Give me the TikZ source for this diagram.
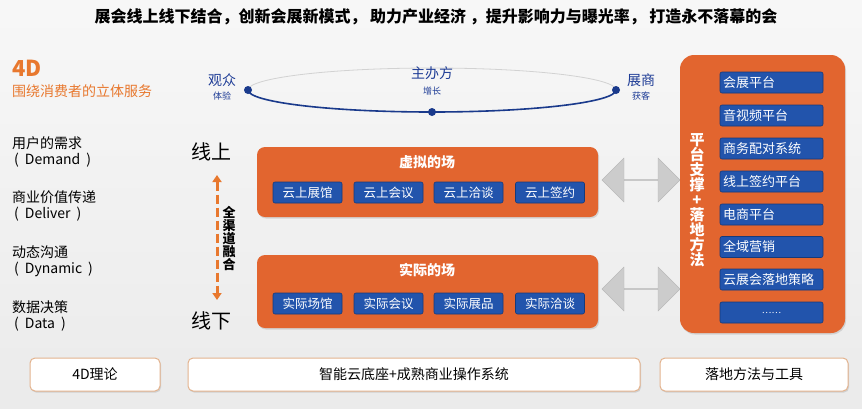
\documentclass[tikz,border=0pt]{standalone}
\usepackage{fontspec}
\setmainfont{Noto Sans CJK SC}
\usetikzlibrary{arrows.meta,shapes.arrows,shadows,calc}
\definecolor{org}{HTML}{E2652F}
\definecolor{orgtxt}{HTML}{E8782E}
\definecolor{blu}{HTML}{2254AC}
\definecolor{bluborder}{HTML}{163A7A}
\definecolor{blutxt}{HTML}{1E3C96}
\definecolor{ellblue}{HTML}{1A3A8C}
\definecolor{tan}{HTML}{E3B38E}
\newcommand{\fs}[1]{\fontsize{#1}{#1}\selectfont}
\tikzset{
  orgbox/.style={fill=org, rounded corners=8pt, drop shadow={opacity=0.25,shadow xshift=1pt,shadow yshift=-1.5pt}},
  bluitem/.style={fill=blu, draw=bluborder, line width=0.6pt, rounded corners=2pt, text=white, font=\fs{12.5}, minimum width=69pt, minimum height=21pt, inner sep=0pt},
  sideitem/.style={fill=blu, draw=bluborder, line width=0.6pt, rounded corners=2pt, text=white, font=\fs{13}, minimum width=103pt, minimum height=21pt, inner sep=3pt, text width=97pt, align=left},
  boxtitle/.style={text=white, font=\bfseries\fs{14}},
  leftlbl/.style={anchor=west, font=\fs{14}, inner sep=0pt},
  botbox/.style={fill=white, draw=tan, line width=1pt, rounded corners=5pt, drop shadow={opacity=0.25,shadow xshift=1pt,shadow yshift=-1.5pt}},
  botlbl/.style={font=\fs{14}},
  grayarrow/.style={double arrow, fill=gray!40, draw=gray!55, minimum width=44pt, double arrow head extend=13.5pt, minimum height=78pt, inner sep=0pt},
  dotnode/.style={circle, fill=ellblue, inner sep=0pt, minimum size=8pt},
  elllbl/.style={text=blutxt, font=\fs{14}, inner sep=0pt},
  ellsub/.style={text=blutxt, font=\fs{9}, inner sep=0pt},
}
\begin{document}
\begin{tikzpicture}[x=1pt,y=-1pt]
\useasboundingbox (0,0) rectangle (862,408);
\shade[top color=gray!6, bottom color=gray!16] (0,0) rectangle (862,408);

% title
\node[font=\bfseries\fs{16}] (title) at (436,17) {展会线上线下结合，创新会展新模式， 助力产业经济 ，提升影响力与曝光率， 打造永不落幕的会};

% left column
\node[anchor=west, text=orgtxt, font=\bfseries\fs{22}, inner sep=0pt] (fourd) at (12,68) {4D};
\node[leftlbl, text=orgtxt] (sub) at (12,91) {围绕消费者的立体服务};
\node[leftlbl] (d1a) at (12,143) {用户的需求};
\node[leftlbl] (d1b) at (14,160) {(\hspace{6pt}Demand\hspace{6pt})};
\node[leftlbl] (d2a) at (12,197) {商业价值传递};
\node[leftlbl] (d2b) at (14,214) {(\hspace{6pt}Deliver\hspace{6pt})};
\node[leftlbl] (d3a) at (12,252) {动态沟通};
\node[leftlbl] (d3b) at (14,269) {(\hspace{6pt}Dynamic\hspace{6pt})};
\node[leftlbl] (d4a) at (12,307) {数据决策};
\node[leftlbl] (d4b) at (14,324) {(\hspace{6pt}Data\hspace{6pt})};

% online / offline
\node[font=\fs{20}] (online) at (211,152) {线上};
\node[font=\fs{20}] (offline) at (211,321) {线下};
\coordinate (atop) at (217,175);
\coordinate (abot) at (217,300);
\draw[orgtxt, line width=3pt, dash pattern=on 9pt off 4pt, {Triangle[length=7pt,width=9pt]}-{Triangle[length=7pt,width=9pt]}] (atop) -- (abot);
\node[font=\bfseries\fs{13}, align=center, inner sep=0pt] (allch) at (229,238) {\baselineskip=14.5pt 全\\渠\\道\\融\\合};

% ellipse
\coordinate (ec) at (432,90);
\draw[gray!35, line width=0.8pt] (ec) ellipse [x radius=184, y radius=22];
\draw[ellblue, line width=1.6pt] ($(ec)+(184,0)$) arc[start angle=0, end angle=180, x radius=184, y radius=22];
\node[dotnode] (dl) at ($(ec)+(-184,0)$) {};
\node[dotnode] (dr) at ($(ec)+(184,0)$) {};
\node[dotnode] (db) at ($(ec)+(0,22)$) {};
\node[elllbl] (guanzhong) at (222,80) {观众};
\node[ellsub] (tiyan) at (222,96) {体验};
\node[elllbl] (zhuban) at (432,73) {主办方};
\node[ellsub] (zengzhang) at (432,91) {增长};
\node[elllbl] (zhanshang) at (641,80) {展商};
\node[ellsub] (huoke) at (641,96) {获客};

% virtual field
\path[orgbox] (257,147) rectangle (598,217);
\node[boxtitle] (vt) at (427,162) {虚拟的场};
\node[bluitem] (v1) at (307.5,192.5) {云上展馆};
\node[bluitem] (v2) at (388.5,192.5) {云上会议};
\node[bluitem] (v3) at (468.5,192.5) {云上洽谈};
\node[bluitem] (v4) at (550,192.5) {云上签约};

% real field
\path[orgbox] (257,255) rectangle (598,328);
\node[boxtitle] (rt) at (427,270) {实际的场};
\node[bluitem] (r1) at (307.5,303.5) {实际场馆};
\node[bluitem] (r2) at (388.5,303.5) {实际会议};
\node[bluitem] (r3) at (468.5,303.5) {实际展品};
\node[bluitem] (r4) at (550,303.5) {实际洽谈};

% gray arrows
\node[grayarrow] (ga1) at (641,180) {};
\node[grayarrow] (ga2) at (641,289) {};

% right panel
\path[orgbox, rounded corners=14pt] (680,55) rectangle (845,333);
\node[text=white, font=\bfseries\fs{15}, align=center, inner sep=0pt] (support) at (697,200) {\baselineskip=16.5pt 平\\台\\支\\撑\\+\\落\\地\\方\\法};
\node[sideitem] (s1) at (771.5,82.5) {会展平台};
\node[sideitem] (s2) at (771.5,115.5) {音视频平台};
\node[sideitem] (s3) at (771.5,148.5) {商务配对系统};
\node[sideitem] (s4) at (771.5,181.5) {线上签约平台};
\node[sideitem] (s5) at (771.5,214.5) {电商平台};
\node[sideitem] (s6) at (771.5,247) {全域营销};
\node[sideitem] (s7) at (771.5,279.5) {云展会落地策略};
\node[sideitem, align=center, font=\fs{9}] (s8) at (771.5,312.5) {……};

% bottom boxes
\path[botbox] (30,358) rectangle (160,391);
\node[botlbl] (b1) at (95,374.5) {4D理论};
\path[botbox] (188,358) rectangle (640,391);
\node[botlbl] (b2) at (414,374.5) {智能云底座+成熟商业操作系统};
\path[botbox] (660,358) rectangle (848,391);
\node[botlbl] (b3) at (754,374.5) {落地方法与工具};
\end{tikzpicture}
\end{document}
